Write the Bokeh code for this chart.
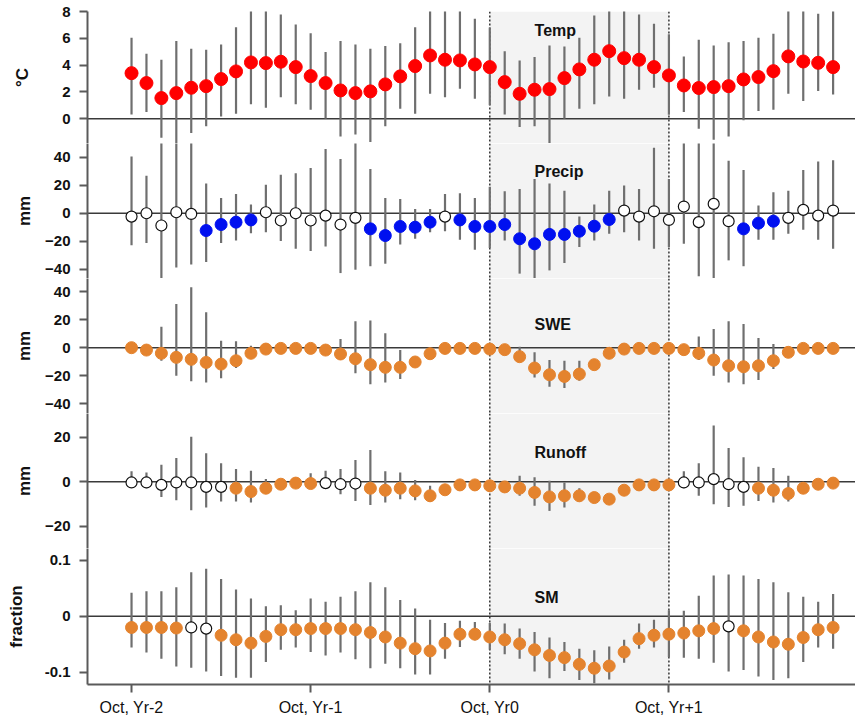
from bokeh.plotting import figure
from bokeh.layouts import column
from bokeh.models import (BoxAnnotation, Span, FixedTicker, Range1d,
                          CustomJSTickFormatter, Label)
from bokeh.embed import file_html
from bokeh.resources import INLINE

# ---------------- data ----------------
month_index = list(range(48))
x_tick_positions = [0, 12, 24, 36]
x_tick_labels = ["Oct, Yr-2", "Oct, Yr-1", "Oct, Yr0", "Oct, Yr+1"]
highlight_start, highlight_end = 24, 36

temp_mean = [3.40, 2.66, 1.54, 1.91, 2.31, 2.43, 2.96, 3.53, 4.20, 4.15,
             4.25, 3.85, 3.18, 2.66, 2.11, 1.91, 2.04, 2.56, 3.16, 3.93,
             4.72, 4.40, 4.35, 4.05, 3.85, 2.73, 1.86, 2.16, 2.21, 3.03,
             3.68, 4.40, 5.04, 4.52, 4.40, 3.85, 3.23, 2.48, 2.29, 2.36,
             2.43, 2.93, 3.11, 3.55, 4.65, 4.27, 4.17, 3.85]
temp_high = [6.04, 4.84, 4.40, 5.79, 5.22, 5.14, 5.54, 6.83, 8.5, 8.5,
             7.78, 7.03, 6.38, 4.97, 5.79, 5.54, 5.22, 5.42, 5.64, 6.83,
             8.5, 8.5, 8.5, 7.45, 6.8, 5.04, 4.35, 4.60, 5.47, 5.39,
             6.04, 7.70, 8.5, 8.5, 7.78, 7.08, 6.3, 4.65, 5.89, 5.47,
             5.71, 5.79, 6.04, 6.34, 8.5, 8.5, 7.83, 8.5]
temp_low = [0.32, 0.50, -1.42, -2.2, -1.07, -0.57, 0.17, 0.37, 1.07, 0.82,
            1.61, 1.07, 0.67, 0.00, -1.32, -1.17, -1.74, -0.57, 0.75, 0.37,
            1.86, 1.61, 2.24, 1.49, 1.0, 0.32, -0.62, -0.57, -2.2, 0.00,
            0.75, 1.07, 1.66, 1.49, 2.16, 2.31, 0.3, 0.50, -0.75, -1.57,
            -1.32, -0.12, 0.57, 0.67, 1.86, 1.32, 2.06, 1.81]
temp_open = []

precip_mean = [-2.4, 0.0, -8.8, 0.7, -0.5, -12.4, -8.1, -6.4, -4.8, 0.7,
               -5.2, 0.0, -5.2, -1.7, -8.1, -3.3, -11.2, -16.0, -9.5, -10.0,
               -6.4, -2.4, -4.8, -9.5, -9.5, -8.1, -18.3, -21.9, -15.2, -15.2,
               -12.9, -9.3, -4.5, 1.9, -2.4, 1.4, -4.8, 4.8, -6.4, 6.7,
               -5.7, -11.2, -7.1, -5.7, -3.3, 2.4, -1.7, 1.9]
precip_high = [40.7, 26.9, 55, 55, 55, 21.4, 11.0, 13.8, 6.2, 20.5,
               27.6, 28.6, 32.4, 46.0, 38.8, 55, 31.7, 11.0, 10.2, 3.1,
               3.1, 13.8, 14.3, 11.0, 19.0, 15.7, 17.4, 24.5, 21.4, 16.2,
               -2.4, 6.2, 16.2, 19.8, 17.4, 47.0, 24.5, 55, 55, 55,
               37.6, 31.0, 5.5, 15.0, 16.2, 31.0, 37.1, 38.0]
precip_low = [-23.0, -21.4, -48, -39, -36.7, -35.0, -21.4, -19.5, -14.3, -13.6,
              -20.0, -25.5, -27.1, -23.8, -42.9, -40.5, -38.0, -36.2, -22.4, -18.3,
              -13.6, -12.9, -19.0, -26.2, -25.0, -19.5, -43.3, -46.9, -41.0, -35.7,
              -24.3, -19.5, -14.8, -13.6, -19.5, -25.5, -24.3, -21.9, -45.2, -46.9,
              -33.8, -38.0, -19.0, -19.0, -14.8, -11.9, -19.0, -25.5]
precip_open = [0, 1, 2, 3, 4, 9, 10, 11, 12, 13, 14, 15, 21,
               33, 34, 35, 36, 37, 38, 39, 40, 44, 45, 46, 47]

swe_mean = [0.0, -1.7, -4.0, -6.9, -8.3, -10.5, -11.7, -9.3, -4.0, -1.0,
            -0.5, -0.5, -0.5, -1.7, -4.5, -7.9, -12.1, -14.0, -14.0, -10.2,
            -4.3, -0.5, -0.5, -0.5, -1.0, -1.4, -6.4, -14.5, -19.3, -20.5,
            -18.8, -12.1, -4.0, -1.0, -0.5, -0.5, -0.5, -1.4, -4.0, -8.8,
            -12.9, -13.6, -12.9, -9.3, -3.3, -0.5, -0.5, -0.5]
swe_high = [1.0, 0.5, 15.0, 31.2, 43.0, 25.2, 5.0, 4.5, 1.4, 1.0,
            1.5, 1.5, 1.5, 0.5, 6.2, 18.8, 19.3, 10.2, -1.7, -8.0,
            -2.5, 1.5, 1.5, 1.5, 1.0, 0.5, 0.7, -3.3, -8.8, -9.3,
            -9.3, -10.0, -2.0, 1.0, 1.5, 1.5, 1.5, 0.5, 7.9, 13.3,
            18.8, 16.9, 6.9, 2.6, -1.5, 1.5, 1.5, 1.5]
swe_low = [-1.0, -3.5, -9.3, -20.0, -24.0, -24.8, -21.7, -14.5, -6.4, -3.0,
           -2.5, -2.5, -2.5, -3.5, -8.8, -18.3, -26.0, -24.8, -22.4, -12.5,
           -6.0, -2.5, -2.5, -2.5, -3.0, -3.5, -8.0, -21.2, -27.9, -28.8,
           -23.6, -14.0, -6.0, -3.0, -2.5, -2.5, -2.5, -3.5, -8.8, -20.0,
           -24.8, -26.0, -23.1, -15.2, -5.0, -2.5, -2.5, -2.5]
swe_open = []

runoff_mean = [-0.3, -0.3, -1.4, -0.3, -0.3, -2.3, -2.3, -2.9, -4.4, -2.9,
               -1.1, -0.6, -0.8, -0.6, -1.1, -0.8, -2.9, -3.8, -2.9, -4.1,
               -6.3, -3.6, -1.4, -1.4, -1.8, -2.3, -2.9, -4.8, -6.8, -6.3,
               -6.3, -7.1, -7.8, -3.8, -1.4, -1.4, -1.4, -0.3, -0.3, 1.2,
               -1.1, -2.3, -2.9, -3.8, -5.3, -2.9, -1.1, -0.6]
runoff_high = [4.7, 4.2, 7.7, 10.7, 20.3, 12.8, 8.3, 5.7, 5.0, 1.2,
               0.5, 1.0, 3.8, 5.0, 5.7, 9.8, 14.3, 4.7, 4.2, 0.8,
               -1.8, -1.5, 0.5, 0.5, 0.0, -0.5, 2.7, 2.0, 0.5, -0.3,
               -2.9, -5.0, -5.5, -1.5, 0.5, 0.5, 0.5, 4.7, 8.3, 25.3,
               15.2, 11.0, 6.8, 6.2, 2.7, -1.0, 0.8, 1.2]
runoff_low = [-2.6, -2.9, -6.8, -8.3, -12.8, -11.6, -8.9, -8.9, -9.3, -5.0,
              -3.0, -2.5, -3.0, -2.6, -5.6, -8.6, -10.4, -9.3, -7.8, -8.3,
              -9.0, -5.5, -3.3, -3.3, -3.8, -4.3, -6.3, -10.8, -13.1, -11.6,
              -8.9, -9.0, -9.8, -5.8, -3.3, -3.3, -3.3, -2.9, -6.3, -10.1,
              -11.3, -10.8, -8.6, -9.3, -8.9, -4.8, -3.0, -2.5]
runoff_open = [0, 1, 2, 3, 4, 5, 6, 13, 14, 15, 37, 38, 39, 40, 41]

sm_mean = [-0.020, -0.020, -0.020, -0.021, -0.020, -0.022, -0.034, -0.042, -0.048, -0.036,
           -0.024, -0.024, -0.022, -0.022, -0.022, -0.024, -0.029, -0.037, -0.048, -0.058,
           -0.062, -0.048, -0.032, -0.032, -0.037, -0.042, -0.049, -0.060, -0.070, -0.074,
           -0.086, -0.093, -0.089, -0.064, -0.040, -0.034, -0.032, -0.030, -0.026, -0.022,
           -0.018, -0.026, -0.037, -0.046, -0.050, -0.038, -0.024, -0.020]
sm_high = [0.042, 0.045, 0.045, 0.052, 0.079, 0.085, 0.067, 0.048, 0.032, 0.018,
           0.020, 0.011, 0.032, 0.026, 0.035, 0.045, 0.061, 0.052, 0.029, 0.014,
           -0.006, -0.012, -0.008, -0.010, -0.012, -0.013, -0.022, -0.028, -0.038, -0.046,
           -0.058, -0.061, -0.054, -0.042, -0.013, -0.006, 0.011, 0.010, 0.037, 0.073,
           0.075, 0.073, 0.067, 0.061, 0.043, 0.035, 0.026, 0.040]
sm_low = [-0.056, -0.065, -0.076, -0.090, -0.092, -0.099, -0.107, -0.110, -0.110, -0.082,
          -0.060, -0.056, -0.064, -0.070, -0.065, -0.077, -0.093, -0.085, -0.093, -0.104,
          -0.104, -0.076, -0.055, -0.043, -0.060, -0.068, -0.076, -0.099, -0.111, -0.098,
          -0.114, -0.120, -0.113, -0.083, -0.058, -0.056, -0.073, -0.074, -0.076, -0.083,
          -0.099, -0.096, -0.108, -0.114, -0.111, -0.082, -0.056, -0.058]
sm_open = [4, 5, 40]

# ---------------- styling ----------------
FONT = "Liberation Sans"
RED = "#ff0000"
BLUE = "#0010f0"
ORANGE = "#e4832e"
BAR = "#6f6f6f"
AXIS = "#5a5a5a"

x_range = Range1d(-2.95, 48.5)


def make_panel(name, ylabel, mean, low, high, open_idx, color, yr, ticks,
               name_y, height, top, standoff, size=12, last=False,
               formatter=None):
    kw = dict(width=855, height=height, x_range=x_range,
              y_range=Range1d(*yr), output_backend="svg",
              toolbar_location=None, min_border_left=87,
              min_border_right=0, min_border_top=top,
              min_border_bottom=34 if last else 0)
    if not last:
        kw["x_axis_location"] = None
    p = figure(**kw)
    p.outline_line_color = None
    p.grid.visible = False

    p.add_layout(BoxAnnotation(left=highlight_start, right=highlight_end,
                               fill_color="#f3f3f3", fill_alpha=1.0,
                               line_color=None, level="underlay"))
    p.add_layout(Span(location=0, dimension="width", line_color="#3a3a3a",
                      line_width=1.5, level="underlay"))
    for xv in (highlight_start, highlight_end):
        p.add_layout(Span(location=xv, dimension="height",
                          line_color="#333333", line_dash="2 2",
                          line_width=1.5, level="underlay"))

    p.segment(x0=month_index, y0=low, x1=month_index, y1=high,
              line_color=BAR, line_width=2.2)

    fx = [i for i in month_index if i not in open_idx]
    ox = [i for i in month_index if i in open_idx]
    p.scatter(x=fx, y=[mean[i] for i in fx], size=size, fill_color=color,
              line_color=color)
    if ox:
        p.scatter(x=ox, y=[mean[i] for i in ox], size=size - 1,
                  fill_color="white", line_color="#111111", line_width=1.2)

    p.add_layout(Label(x=27, y=name_y, text=name, text_font=FONT,
                       text_font_style="bold", text_font_size="16px",
                       text_baseline="middle", text_align="left",
                       text_color="#111111"))

    ya = p.yaxis[0]
    ya.ticker = FixedTicker(ticks=ticks)
    if formatter is not None:
        ya.formatter = formatter
    ya.minor_tick_line_color = None
    ya.major_tick_out = 8
    ya.major_tick_in = 0
    ya.major_tick_line_color = AXIS
    ya.major_tick_line_width = 2
    ya.axis_line_color = AXIS
    ya.axis_line_width = 2
    ya.major_label_standoff = 9
    ya.major_label_text_font = FONT
    ya.major_label_text_font_style = "bold"
    ya.major_label_text_font_size = "15px"
    ya.major_label_text_color = "#111111"
    ya.axis_label = ylabel
    ya.axis_label_text_font = FONT
    ya.axis_label_text_font_style = "bold"
    ya.axis_label_text_font_size = "17px"
    ya.axis_label_text_color = "#111111"
    ya.axis_label_standoff = standoff

    if last:
        xa = p.xaxis[0]
        xa.ticker = FixedTicker(ticks=x_tick_positions)
        xa.major_label_overrides = dict(zip(x_tick_positions, x_tick_labels))
        xa.minor_tick_line_color = None
        xa.major_tick_out = 8
        xa.major_tick_in = 0
        xa.major_tick_line_color = AXIS
        xa.major_tick_line_width = 2
        xa.axis_line_color = AXIS
        xa.axis_line_width = 2
        xa.major_label_standoff = 6
        xa.major_label_text_font = FONT
        xa.major_label_text_font_size = "16px"
        xa.major_label_text_color = "#111111"
    return p


sm_fmt = CustomJSTickFormatter(code="return tick == 0 ? '0' : tick.toFixed(1);")

p1 = make_panel("Temp", "°C", temp_mean, temp_low, temp_high, temp_open, RED,
                (-1.85, 8.0), [0, 2, 4, 6, 8], 6.6, 143, 11, 27, size=13)
p2 = make_panel("Precip", "mm", precip_mean, precip_low, precip_high,
                precip_open, BLUE, (-46.8, 50.0), [-40, -20, 0, 20, 40],
                30, 135, 0, 8)
p3 = make_panel("SWE", "mm", swe_mean, swe_low, swe_high, swe_open, ORANGE,
                (-46.9, 49.3), [-40, -20, 0, 20, 40], 16.4, 135, 0, 8)
p4 = make_panel("Runoff", "mm", runoff_mean, runoff_low, runoff_high,
                runoff_open, ORANGE, (-30.0, 30.7), [-20, 0, 20], 13,
                135, 0, 8)
p5 = make_panel("SM", "fraction", sm_mean, sm_low, sm_high, sm_open, ORANGE,
                (-0.1221, 0.1214), [-0.1, 0, 0.1], 0.034, 170, 0, 16,
                last=True, formatter=sm_fmt)

layout = column(p1, p2, p3, p4, p5, spacing=0)

open("out.html", "w").write(file_html(layout, INLINE))
